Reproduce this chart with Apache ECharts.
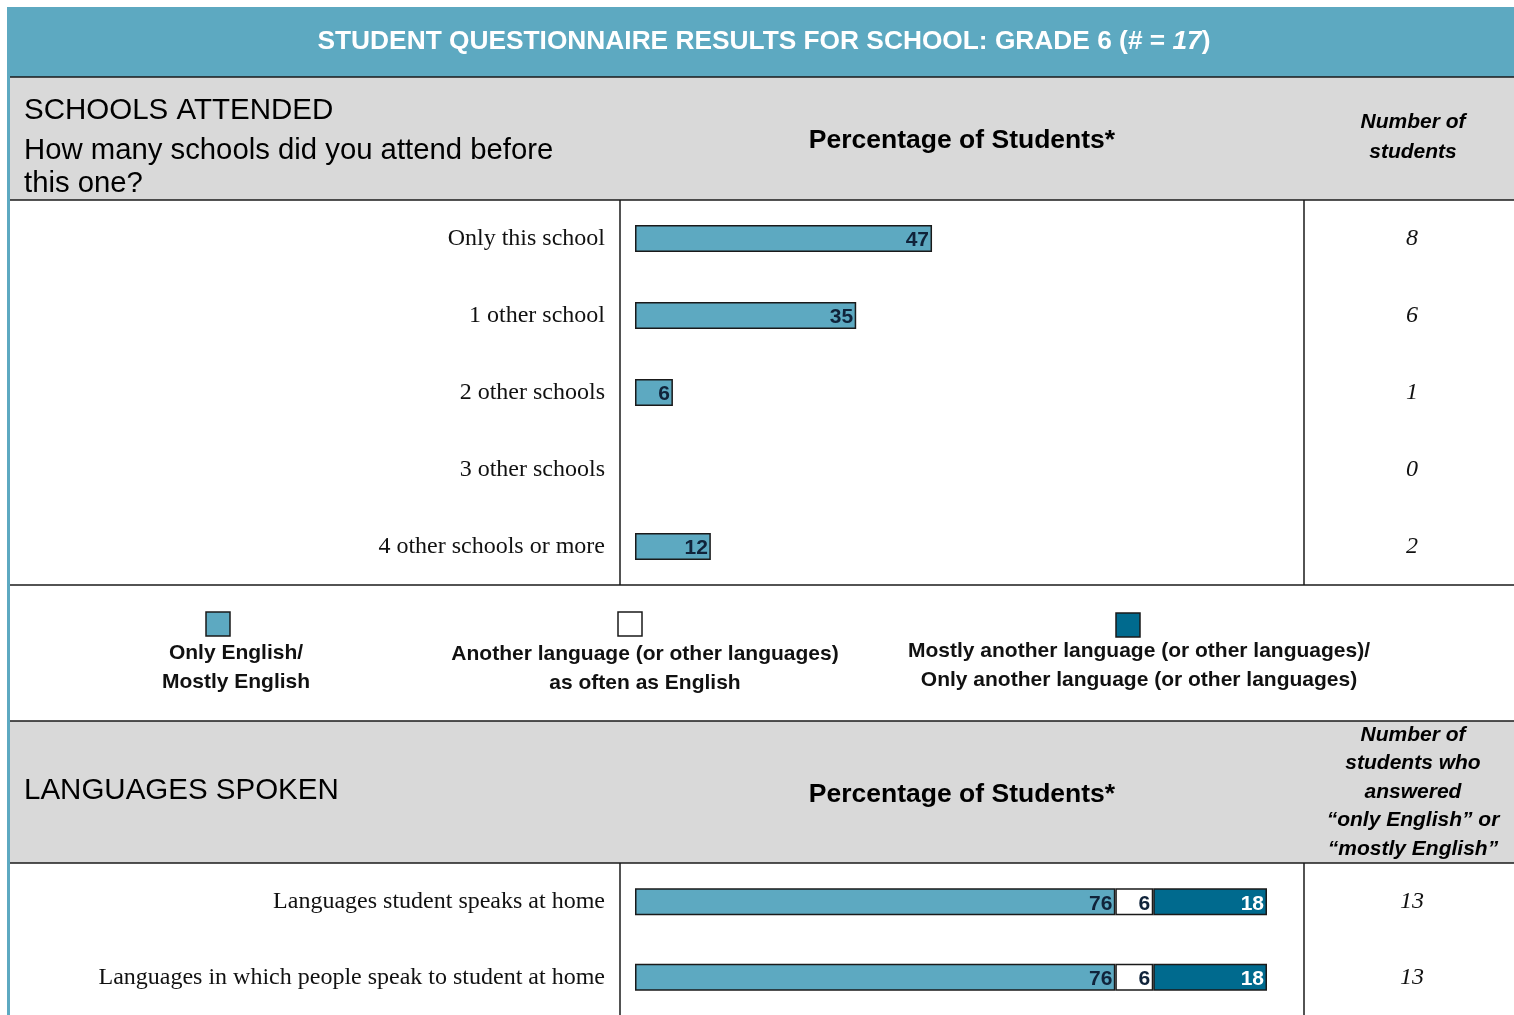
<!DOCTYPE html>
<html>
<head>
<meta charset="utf-8">
<title>Student Questionnaire Results</title>
<script src="https://cdn.jsdelivr.net/npm/echarts@6/dist/echarts.min.js"></script>
<style>
  html, body { margin: 0; padding: 0; background: #ffffff; }
  #chart { width: 1514px; height: 1015px; }
</style>
</head>
<body>
<div id="chart"></div>
<script>
// Schools attended
const schoolCategories = ['Only this school', '1 other school', '2 other schools', '3 other schools', '4 other schools or more'];
const schoolPercents = [47, 35, 6, 0, 12];
const schoolCounts = [8, 6, 1, 0, 2];

// Languages spoken
const languageCategories = ['Languages student speaks at home', 'Languages in which people speak to student at home'];
const englishPercents = [76, 76];
const bothPercents = [6, 6];
const otherPercents = [18, 18];
const englishCounts = [13, 13];

const seriesNames = ['Only English/\nMostly English', 'Another language (or other languages)\nas often as English', 'Mostly another language (or other languages)/\nOnly another language (or other languages)'];

const LIGHT = '#5da9c1';
const DARK = '#006a8e';
const GREY = '#d9d9d9';
const INK = '#1a1a1a';
const SANS = '"Liberation Sans", Arial, sans-serif';
const SERIF = '"Liberation Serif", "Times New Roman", serif';

const chart = echarts.init(document.getElementById('chart'), null, { renderer: 'canvas' });

function hline(y) {
  return { type: 'line', z: 1, shape: { x1: 10, y1: y, x2: 1514, y2: y }, style: { stroke: INK, lineWidth: 1.5 } };
}
function vline(x, y1, y2) {
  return { type: 'line', z: 1, shape: { x1: x, y1: y1, x2: x, y2: y2 }, style: { stroke: INK, lineWidth: 1.5 } };
}
function swatch(x, y, fill) {
  return { type: 'rect', z: 1, shape: { x: x, y: y, width: 24, height: 24 }, style: { fill: fill, stroke: INK, lineWidth: 1.5 } };
}
function legendText(x, y, text) {
  return { type: 'text', z: 1, x: x, y: y, style: { text: text, textAlign: 'center', textVerticalAlign: 'top', font: 'bold 21px ' + SANS, fill: '#111', lineHeight: 28.5 } };
}

const valueLabel = (color) => ({
  show: true,
  position: 'insideRight',
  distance: 3,
  offset: [0, 2],
  color: color,
  fontFamily: SANS,
  fontWeight: 'bold',
  fontSize: 21,
  formatter: (p) => (p.value > 0 ? String(p.value) : '')
});

const barStyle = (fill) => ({ color: fill, borderColor: INK, borderWidth: 1.5 });

// an empty category gets no outline at the axis
const withEmptyHidden = (values) => values.map((v) => (v > 0 ? v : { value: v, itemStyle: { borderWidth: 0 } }));

const option = {
  animation: false,
  backgroundColor: '#ffffff',
  graphic: [
    // title band and left rule
    { type: 'rect', z: 0, shape: { x: 7, y: 7, width: 1507, height: 70 }, style: { fill: LIGHT } },
    { type: 'rect', z: 0, shape: { x: 7, y: 7, width: 3, height: 1008 }, style: { fill: LIGHT } },
    // grey header blocks
    { type: 'rect', z: 0, shape: { x: 10, y: 77, width: 1504, height: 123 }, style: { fill: GREY } },
    { type: 'rect', z: 0, shape: { x: 10, y: 721, width: 1504, height: 142 }, style: { fill: GREY } },
    hline(77), hline(200), hline(585), hline(721), hline(863),
    vline(620, 200, 585), vline(1304, 200, 585),
    vline(620, 863, 1015), vline(1304, 863, 1015),
    {
      type: 'text', z: 2, x: 764, y: 42,
      style: {
        text: '{b|STUDENT QUESTIONNAIRE RESULTS FOR SCHOOL: GRADE 6 (# = }{i|17}{b|)}',
        textAlign: 'center', textVerticalAlign: 'middle',
        rich: {
          b: { font: 'bold 26.3px ' + SANS, fill: '#ffffff' },
          i: { font: 'italic bold 26.3px ' + SANS, fill: '#ffffff' }
        }
      }
    },
    // schools header
    { type: 'text', z: 2, x: 24, y: 111, style: { text: 'SCHOOLS ATTENDED', textVerticalAlign: 'middle', font: '29.5px ' + SANS, fill: '#000' } },
    { type: 'text', z: 2, x: 24, y: 151, style: { text: 'How many schools did you attend before', textVerticalAlign: 'middle', font: '29.3px ' + SANS, fill: '#000' } },
    { type: 'text', z: 2, x: 24, y: 184, style: { text: 'this one?', textVerticalAlign: 'middle', font: '29.3px ' + SANS, fill: '#000' } },
    { type: 'text', z: 2, x: 962, y: 141, style: { text: 'Percentage of Students*', textAlign: 'center', textVerticalAlign: 'middle', font: 'bold 26.5px ' + SANS, fill: '#000' } },
    { type: 'text', z: 2, x: 1413, y: 137, style: { text: 'Number of\nstudents', textAlign: 'center', textVerticalAlign: 'middle', font: 'italic bold 21px ' + SANS, fill: '#000', lineHeight: 30 } },
    // legend
    swatch(206, 612, LIGHT), swatch(618, 612, '#ffffff'), swatch(1116, 613, DARK),
    legendText(236, 639, seriesNames[0]),
    legendText(645, 640, seriesNames[1]),
    legendText(1139, 637, seriesNames[2]),
    // languages header
    { type: 'text', z: 2, x: 24, y: 791, style: { text: 'LANGUAGES SPOKEN', textVerticalAlign: 'middle', font: '29.5px ' + SANS, fill: '#000' } },
    { type: 'text', z: 2, x: 962, y: 795, style: { text: 'Percentage of Students*', textAlign: 'center', textVerticalAlign: 'middle', font: 'bold 26.5px ' + SANS, fill: '#000' } },
    { type: 'text', z: 2, x: 1413, y: 792, style: { text: 'Number of\nstudents who\nanswered\n\u201conly English\u201d or\n\u201cmostly English\u201d', textAlign: 'center', textVerticalAlign: 'middle', font: 'italic bold 21px ' + SANS, fill: '#000', lineHeight: 28.5 } }
  ],
  grid: [
    { left: 635, top: 200, width: 632, height: 385, containLabel: false },
    { left: 635, top: 864, width: 632, height: 154, containLabel: false }
  ],
  xAxis: [
    { gridIndex: 0, type: 'value', min: 0, max: 100, show: false },
    { gridIndex: 1, type: 'value', min: 0, max: 100, show: false }
  ],
  yAxis: [
    {
      gridIndex: 0, type: 'category', inverse: true, data: schoolCategories,
      axisLine: { show: false }, axisTick: { show: false }, splitLine: { show: false },
      axisLabel: { margin: 30, fontFamily: SERIF, fontSize: 24, color: '#111' }
    },
    {
      gridIndex: 0, type: 'category', inverse: true, position: 'right', data: schoolCounts.map(String),
      axisLine: { show: false }, axisTick: { show: false }, splitLine: { show: false },
      axisLabel: { margin: 145, align: 'center', fontFamily: SERIF, fontStyle: 'italic', fontSize: 24, color: '#111' }
    },
    {
      gridIndex: 1, type: 'category', inverse: true, data: languageCategories,
      axisLine: { show: false }, axisTick: { show: false }, splitLine: { show: false },
      axisLabel: { margin: 30, fontFamily: SERIF, fontSize: 24, color: '#111' }
    },
    {
      gridIndex: 1, type: 'category', inverse: true, position: 'right', data: englishCounts.map(String),
      axisLine: { show: false }, axisTick: { show: false }, splitLine: { show: false },
      axisLabel: { margin: 145, align: 'center', fontFamily: SERIF, fontStyle: 'italic', fontSize: 24, color: '#111' }
    }
  ],
  series: [
    {
      name: 'Schools attended', type: 'bar', xAxisIndex: 0, yAxisIndex: 0,
      data: withEmptyHidden(schoolPercents), barWidth: 27,
      itemStyle: barStyle(LIGHT), label: valueLabel('#10233a')
    },
    {
      name: seriesNames[0], type: 'bar', stack: 'lang', xAxisIndex: 1, yAxisIndex: 2,
      data: englishPercents, barWidth: 27,
      itemStyle: barStyle(LIGHT), label: valueLabel('#10233a')
    },
    {
      name: seriesNames[1], type: 'bar', stack: 'lang', xAxisIndex: 1, yAxisIndex: 2,
      data: bothPercents, barWidth: 27,
      itemStyle: barStyle('#ffffff'), label: valueLabel('#10233a')
    },
    {
      name: seriesNames[2], type: 'bar', stack: 'lang', xAxisIndex: 1, yAxisIndex: 2,
      data: otherPercents, barWidth: 27,
      itemStyle: barStyle(DARK), label: valueLabel('#ffffff')
    }
  ]
};

chart.setOption(option);
</script>
</body>
</html>
